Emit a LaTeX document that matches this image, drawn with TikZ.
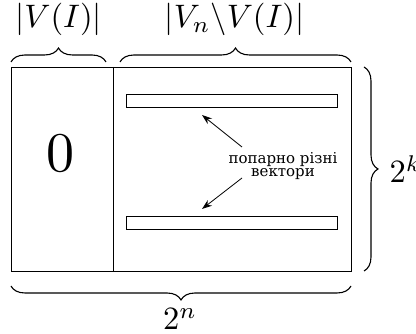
\documentclass[tikz,border=0pt]{standalone}
\usepackage{fontspec}
\newfontfamily\cyr{DejaVu Serif}
\usetikzlibrary{decorations.pathreplacing,arrows.meta}
\begin{document}
\begin{tikzpicture}[x=1pt,y=-1pt,
  box/.style={draw,line width=0.9pt},
  bar/.style={draw,line width=0.8pt,minimum width=211pt,minimum height=13pt,inner sep=0pt},
  brc/.style={decorate,decoration={brace,amplitude=14pt},line width=1.1pt},
  lbl/.style={scale=3.25,inner sep=0pt},
  arr/.style={-{Stealth[length=10pt,width=7pt]},line width=0.8pt}]
\useasboundingbox (0,0) rectangle (416,334);
\draw[box] (11,67) rectangle (351,271);
\draw[box] (113,67) -- (113,271);
\node[bar] (bar1) at (231.5,100.5) {};
\node[bar] (bar2) at (231.5,222.5) {};
\node[scale=5.6,inner sep=0pt,anchor=base] (zero) at (60,172) {$0$};
\node[align=center,font=\cyr\fontsize{15}{13}\selectfont,inner sep=0pt] (txt) at (283,166) {попарно різні\\вектори};
\coordinate (a1) at (202,115);
\coordinate (a2) at (202,209);
\coordinate (t1) at (242,147);
\coordinate (t2) at (242,178);
\draw[arr] (t1) -- (a1);
\draw[arr] (t2) -- (a2);
\draw[brc] (11,62) -- (106,62) coordinate[midway] (b1);
\draw[brc] (120,62) -- (351,62) coordinate[midway] (b2);
\draw[brc] (364,67) -- (364,271) coordinate[midway] (b3);
\draw[brc] (351,286) -- (11,286) coordinate[midway] (b4);
\node[lbl,anchor=base] (l1) at (58.5,28) {$|V(I)|$};
\node[lbl,anchor=base] (l2) at (234.5,28) {$|V_n\backslash V(I)|$};
\node[lbl,anchor=base west] (l3) at (389,183) {$2^k$};
\node[lbl,anchor=base] (l4) at (180,330) {$2^n$};
\end{tikzpicture}
\end{document}
